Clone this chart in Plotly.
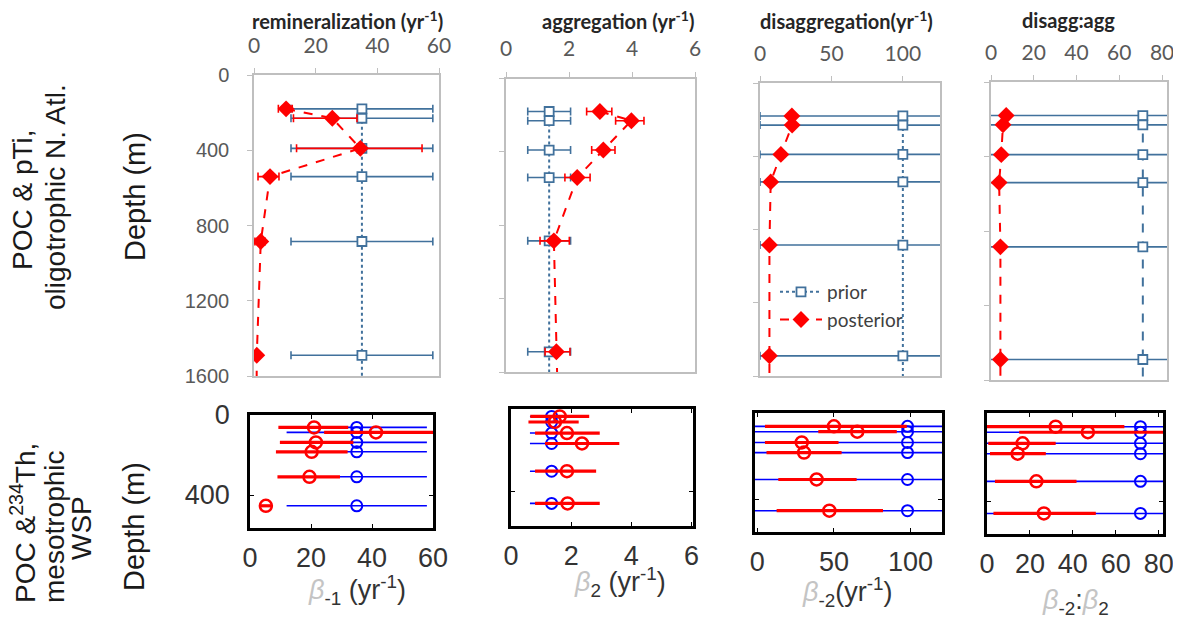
import plotly.graph_objects as go

W, H = 1181, 628
OFF = 8  # page body margin offset in the browser

# ---------------- data: top row (POC & pTi, oligotrophic N. Atl.) ----------------
depth_top = [180, 230, 390, 540, 885, 1490, 1800]

prior_remin = [35, 35, 35, 35, 35, 35, 35]
prior_remin_err = [23, 23, 23, 23, 23, 23, 23]
post_remin = [10.4, 25.4, 34.5, 5.2, 2.2, 0.9, 0.8]
post_remin_minus = [2.5, 12.6, 20.7, 3.9, 1.9, 0.6, 0.5]
post_remin_plus = [2.0, 8.0, 20.0, 2.9, 1.4, 0.6, 0.5]

prior_agg = [1.37, 1.37, 1.37, 1.37, 1.37, 1.37, 1.37]
prior_agg_err = [0.68, 0.68, 0.68, 0.68, 0.68, 0.68, 0.68]
post_agg = [2.98, 3.98, 3.09, 2.26, 1.52, 1.60, 1.65]
post_agg_minus = [0.42, 0.50, 0.37, 0.39, 0.44, 0.36, 0.36]
post_agg_plus = [0.38, 0.40, 0.37, 0.41, 0.49, 0.43, 0.43]

prior_disagg = [100, 100, 100, 100, 100, 100, 100]
prior_disagg_err = [100, 100, 100, 100, 100, 100, 100]
post_disagg = [22.3, 22.5, 14.6, 7.5, 6.6, 6.6, 6.6]

prior_ratio = [71, 71, 71, 71, 71, 71, 71]
prior_ratio_err = [72, 72, 72, 72, 72, 72, 72]
post_ratio = [7.1, 5.6, 4.8, 3.8, 4.4, 4.4, 4.4]

top_titles = ["remineralization (yr<sup>-1</sup>)", "aggregation (yr<sup>-1</sup>)",
              "disaggregation(yr<sup>-1</sup>)", "disagg:agg"]
depth_ticks_top = [0, 400, 800, 1200, 1600]
top_row_label = ["POC & pTi,", "oligotrophic N. Atl."]

# ---------------- data: bottom row (POC & 234Th, mesotrophic WSP) ----------------
depth_bot = [62, 87, 137, 184, 309, 454]

b_prior_m1 = [35, 35, 35, 35, 35, 35]
b_prior_m1_err = [23, 23, 23, 23, 23, 23]
b_post_m1 = [21, 41.3, 21.6, 20.2, 19.5, 5.2]
b_post_m1_minus = [11.7, 17, 11.8, 11.7, 10.5, 2]
b_post_m1_plus = [11.2, 22, 12.3, 11.8, 10, 2]

b_prior_2 = [1.35, 1.35, 1.35, 1.35, 1.35, 1.35]
b_prior_2_err = [0.72, 0.72, 0.72, 0.72, 0.72, 0.72]
b_post_2 = [1.62, 1.46, 1.86, 2.36, 1.86, 1.88]
b_post_2_minus = [0.98, 0.88, 1.06, 1.23, 1.06, 1.08]
b_post_2_plus = [0.98, 0.79, 1.09, 1.24, 0.97, 1.07]

b_prior_m2 = [98, 98, 98, 98, 98, 98]
b_prior_m2_err = [100, 100, 100, 100, 100, 100]
b_post_m2 = [50, 65.2, 29, 30.5, 38.7, 47]
b_post_m2_minus = [45, 25.4, 24, 24.5, 25, 34.4]
b_post_m2_plus = [47.5, 25.8, 24, 24.5, 26.1, 35]

b_prior_r = [71.5, 71.5, 71.5, 71.5, 71.5, 71.5]
b_prior_r_err = [75, 75, 75, 75, 75, 75]
b_post_r = [32, 47, 16.6, 14.3, 23, 26.5]
b_post_r_minus = [32, 32, 16, 12.9, 19.3, 23.5]
b_post_r_plus = [32, 36, 15.4, 13.1, 18.7, 24.2]

bot_xticks = [[0, 20, 40, 60], [0, 2, 4, 6], [0, 50, 100], [0, 20, 40, 60, 80]]
bot_titles = [
    "<span style='color:#c4c4c4'><i>β</i></span><sub>-1</sub> (yr<sup>-1</sup>)",
    "<span style='color:#c4c4c4'><i>β</i></span><sub>2</sub> (yr<sup>-1</sup>)",
    "<span style='color:#c4c4c4'><i>β</i></span><sub>-2</sub>(yr<sup>-1</sup>)",
    "<span style='color:#c4c4c4'><i>β</i></span><sub>-2</sub>:<span style='color:#c4c4c4'><i>β</i></span><sub>2</sub>",
]
bot_row_label = ["POC &<sup>234</sup>Th,", "mesotrophic", "WSP"]

# ---------------- layout geometry (screen pixels) ----------------
top_boxes = [(254, 75, 439, 376), (506, 78.5, 695, 372), (760, 83, 940, 376), (991, 82, 1167, 380)]
top_xranges = [[0, 60], [0, 6], [0, 126], [0, 82.3]]
top_xticks = [[0, 20, 40, 60], [0, 2, 4, 6], [0, 50, 100], [0, 20, 40, 60, 80]]
bot_boxes = [(250, 415, 433, 528), (511, 409, 693, 526), (755, 413, 942, 532), (987, 413, 1163, 534)]
bot_xranges = [[0, 60], [0, 6.05], [-1.5, 120.5], [0, 82]]
bot_yranges = [[565, 0], [556, 28.5], [553, 0], [547, 0]]

PRIOR_C = "#41719C"
POST_C = "#FF0000"


def fx(px):
    return (px - OFF) / W


def fy(py):
    return 1 - (py - OFF) / H


def dom(box):
    x0, y0, x1, y1 = box
    return [fx(x0), fx(x1)], [fy(y1), fy(y0)]


fig = go.Figure()
layout = {}
for i in range(4):
    k = i + 1
    xd, yd = dom(top_boxes[i])
    layout[f"xaxis{k}"] = dict(
        domain=xd, anchor=f"y{k}", side="top", range=top_xranges[i],
        tickvals=top_xticks[i], ticks="outside", ticklen=5, tickcolor="#bfbfbf",
        showline=True, mirror=True, linecolor="#bfbfbf", linewidth=1.5,
        showgrid=False, zeroline=False, ticklabelstandoff=7, automargin=False,
        tickfont=dict(family="Lato", size=21, color="#595959"),
    )
    layout[f"yaxis{k}"] = dict(
        domain=yd, anchor=f"x{k}", range=[1600, 0], tickvals=depth_ticks_top,
        ticks="outside", ticklen=5, tickcolor="#bfbfbf",
        showline=True, mirror=True, linecolor="#bfbfbf", linewidth=1.5,
        showgrid=False, zeroline=False, showticklabels=(i == 0), ticklabelstandoff=14,
        automargin=False,
        tickfont=dict(family="Liberation Sans", size=20, color="#595959"),
    )
for i in range(4):
    k = i + 5
    xd, yd = dom(bot_boxes[i])
    layout[f"xaxis{k}"] = dict(
        domain=xd, anchor=f"y{k}", side="bottom", range=bot_xranges[i],
        tickvals=bot_xticks[i], ticks="inside", ticklen=4, tickcolor="black",
        showline=True, mirror="ticks", linecolor="black", linewidth=2.5,
        showgrid=False, zeroline=False, ticklabelstandoff=4, automargin=False,
        tickfont=dict(family="Liberation Sans", size=27, color="#333333"),
    )
    layout[f"yaxis{k}"] = dict(
        domain=yd, anchor=f"x{k}", range=bot_yranges[i], tickvals=[0, 400],
        ticks="inside", ticklen=4, tickcolor="black",
        showline=True, mirror="ticks", linecolor="black", linewidth=2.5,
        showgrid=False, zeroline=False, showticklabels=(i == 0), ticklabelstandoff=12,
        automargin=False,
        tickfont=dict(family="Liberation Sans", size=27, color="#333333"),
    )

# ---------------- top row traces ----------------
top_sets = [
    (prior_remin, prior_remin_err, post_remin, post_remin_minus, post_remin_plus, "dot"),
    (prior_agg, prior_agg_err, post_agg, post_agg_minus, post_agg_plus, "dot"),
    (prior_disagg, prior_disagg_err, post_disagg, None, None, "dot"),
    (prior_ratio, prior_ratio_err, post_ratio, None, None, "dash"),
]
for i, (pr, pre, po, pom, pop, pdash) in enumerate(top_sets):
    k = i + 1
    fig.add_trace(go.Scatter(
        x=pr, y=depth_top, xaxis=f"x{k}", yaxis=f"y{k}", mode="lines+markers",
        name="prior", showlegend=(i == 2), legendrank=1,
        line=dict(color=PRIOR_C, width=2, dash=pdash),
        marker=dict(symbol="square", size=9, color="white", line=dict(color=PRIOR_C, width=1.8)),
        error_x=dict(type="data", array=pre, color=PRIOR_C, thickness=1.6, width=4),
    ))
    ex = None
    if pom is not None:
        ex = dict(type="data", symmetric=False, array=pop, arrayminus=pom,
                  color=POST_C, thickness=1.6, width=4)
    fig.add_trace(go.Scatter(
        x=po, y=depth_top, xaxis=f"x{k}", yaxis=f"y{k}", mode="lines+markers",
        name="posterior", showlegend=(i == 2), legendrank=2,
        line=dict(color=POST_C, width=2, dash="dash"),
        marker=dict(symbol="diamond", size=13, color=POST_C),
        error_x=ex,
    ))

# ---------------- bottom row traces ----------------
bot_sets = [
    (b_prior_m1, b_prior_m1_err, b_post_m1, b_post_m1_minus, b_post_m1_plus),
    (b_prior_2, b_prior_2_err, b_post_2, b_post_2_minus, b_post_2_plus),
    (b_prior_m2, b_prior_m2_err, b_post_m2, b_post_m2_minus, b_post_m2_plus),
    (b_prior_r, b_prior_r_err, b_post_r, b_post_r_minus, b_post_r_plus),
]
for i, (pr, pre, po, pom, pop) in enumerate(bot_sets):
    k = i + 5
    fig.add_trace(go.Scatter(
        x=pr, y=depth_bot, xaxis=f"x{k}", yaxis=f"y{k}", mode="markers", showlegend=False,
        marker=dict(symbol="circle-open", size=11, color="#0000FF", line=dict(width=2)),
        error_x=dict(type="data", array=pre, color="#0000FF", thickness=1.6, width=0),
    ))
    fig.add_trace(go.Scatter(
        x=po, y=depth_bot, xaxis=f"x{k}", yaxis=f"y{k}", mode="markers", showlegend=False,
        marker=dict(symbol="circle-open", size=12, color="#FF0000", line=dict(width=2.5)),
        error_x=dict(type="data", symmetric=False, array=pop, arrayminus=pom,
                     color="#FF0000", thickness=3.2, width=0),
    ))

# ---------------- annotations ----------------
ann = []


def add_ann(text, px, py, font, angle=0):
    ann.append(dict(text=text, x=fx(px), y=fy(py), xref="paper", yref="paper",
                    xanchor="center", yanchor="middle", showarrow=False,
                    textangle=angle, font=font))


title_pos = [(347, 20), (618, 20), (846, 20), (1068, 20)]
for t, (px, py) in zip(top_titles, title_pos):
    add_ann(f"<b>{t}</b>", px, py, dict(family="Lato", size=20, color="#262626"))
bot_title_pos = [(357, 590), (620, 582), (847, 592), (1075, 602)]
for t, (px, py) in zip(bot_titles, bot_title_pos):
    add_ann(t, px, py, dict(family="Liberation Sans", size=27, color="#333333"))

row_font = dict(family="Liberation Sans", size=28, color="#1a1a1a")
for t, (px, py) in zip(top_row_label, [(23, 200), (55, 197)]):
    add_ann(t, px, py, row_font, -90)
for t, (px, py) in zip(bot_row_label, [(23, 523), (54, 527), (81, 528)]):
    add_ann(t, px, py, row_font, -90)
add_ann("Depth (m)", 135, 197, dict(family="Liberation Sans", size=29, color="#1a1a1a"), -90)
add_ann("Depth (m)", 134, 527, dict(family="Liberation Sans", size=29, color="#1a1a1a"), -90)

fig.update_layout(
    width=W, height=H, margin=dict(l=0, r=0, t=0, b=0, autoexpand=False),
    paper_bgcolor="white", plot_bgcolor="white",
    annotations=ann,
    legend=dict(x=fx(775), y=fy(273), xanchor="left", yanchor="top",
                bgcolor="rgba(0,0,0,0)", font=dict(family="Lato", size=19, color="#404040"),
                tracegroupgap=0, itemsizing="trace", itemwidth=42),
    **layout,
)

fig.write_html("out.html")
